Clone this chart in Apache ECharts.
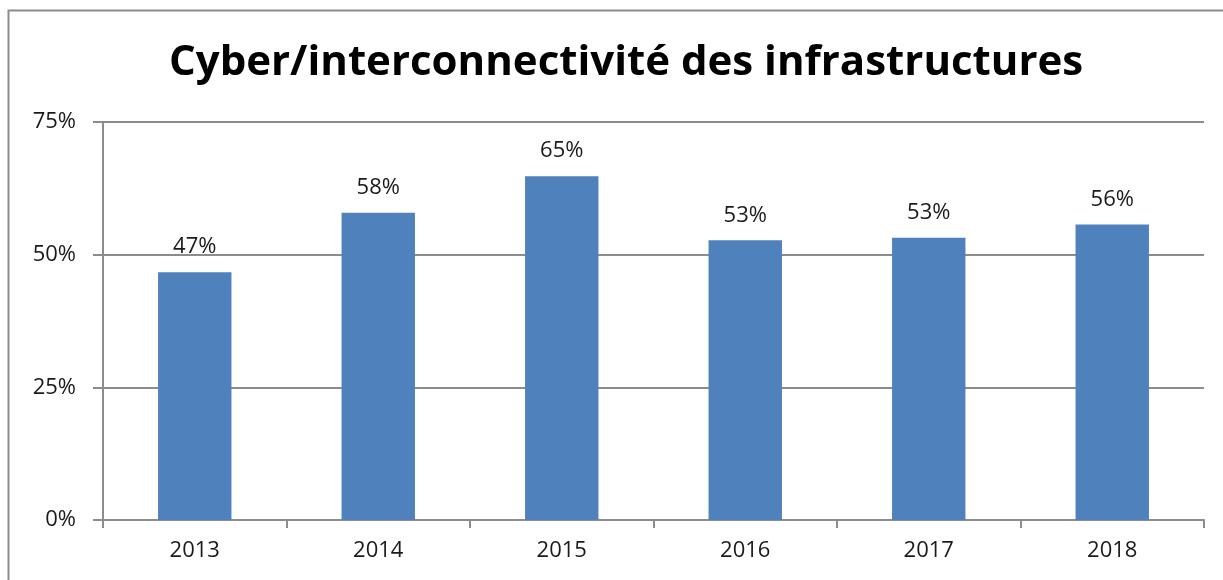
<!DOCTYPE html>
<html><head><meta charset="utf-8">
<script src="https://cdn.jsdelivr.net/npm/echarts@6/dist/echarts.min.js"></script>
<style>html,body{margin:0;padding:0;background:#fff}#c{width:1223px;height:580px}</style>
</head><body><div id="c"></div>
<script>
const titleText = 'Cyber/interconnectivité des infrastructures';
const categories = ['2013', '2014', '2015', '2016', '2017', '2018'];
const values = [0.467, 0.579, 0.648, 0.527, 0.532, 0.557];
const yTicks = [0, 0.25, 0.5, 0.75];

const chart = echarts.init(document.getElementById('c'), null, {renderer: 'canvas'});
const font = 'Open Sans';
chart.setOption({
  backgroundColor: '#fff',
  animation: false,
  title: {
    text: titleText, left: 164, top: 37,
    textStyle: {fontFamily: font, fontWeight: 'bold', fontSize: 42, color: '#000'}
  },
  graphic: [{
    type: 'rect', shape: {x: 8.5, y: 10.5, width: 1300, height: 700},
    style: {fill: 'none', stroke: '#8c8c8c', lineWidth: 2}, silent: true
  }],
  grid: {left: 103, right: 19, top: 122, bottom: 60, containLabel: false},
  xAxis: {
    type: 'category', data: categories,
    axisLine: {lineStyle: {color: '#8c8c8c', width: 2}},
    axisTick: {show: true, length: 8, lineStyle: {color: '#8c8c8c', width: 2}},
    axisLabel: {fontFamily: font, fontSize: 22, color: '#1a1a1a', margin: 20}
  },
  yAxis: {
    type: 'value', min: 0, max: 0.75, interval: 0.25,
    axisLine: {show: true, lineStyle: {color: '#8c8c8c', width: 2}},
    axisTick: {show: true, length: 10, lineStyle: {color: '#8c8c8c', width: 2}},
    splitLine: {lineStyle: {color: '#8c8c8c', width: 2}},
    axisLabel: {fontFamily: font, fontSize: 22, color: '#1a1a1a', margin: 27,
      formatter: v => Math.round(v * 100) + '%'}
  },
  series: [{
    type: 'bar', data: values, barWidth: '40%',
    itemStyle: {color: '#4f81bd'},
    label: {show: true, position: 'top', distance: 14, fontFamily: font, fontSize: 22, color: '#1a1a1a',
      formatter: p => Math.round(p.value * 100) + '%'}
  }]
});
</script></body></html>
